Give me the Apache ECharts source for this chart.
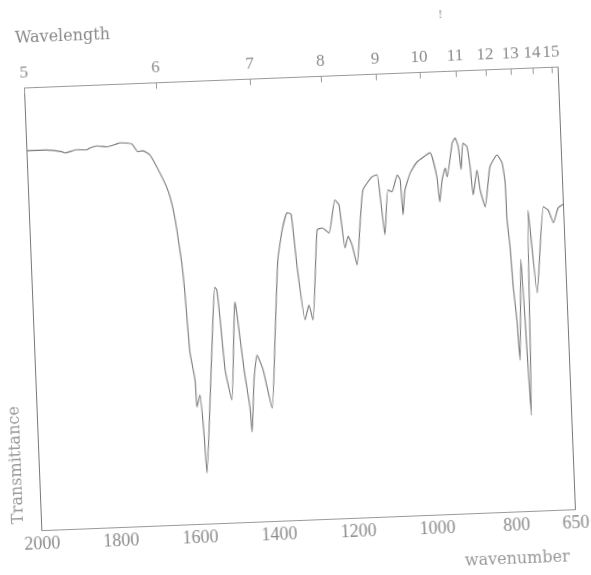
<!DOCTYPE html>
<html>
<head>
<meta charset="utf-8">
<script src="https://cdn.jsdelivr.net/npm/echarts@6/dist/echarts.min.js"></script>
<style>
  html, body { margin: 0; padding: 0; overflow: hidden; background: #fff; }
  /* the scan is tilted a little, so the whole chart is turned to match */
  #main { position: absolute; left: -20px; top: -20px; width: 631px; height: 615px; transform: rotate(-2.25deg); }
</style>
</head>
<body>
<div id="main"></div>
<script type="text/javascript">
    // spectrum (wavenumber in cm-1, transmittance in %)
    var wavenumber = [2000, 1950, 1912, 1904, 1874, 1849, 1841, 1823, 1798, 1772, 1764, 1734, 1720, 1707, 1690,
        1666, 1648, 1637, 1629, 1620, 1615, 1611, 1608, 1598, 1596, 1587, 1581, 1577, 1562, 1547,
        1539, 1534, 1529, 1521, 1507, 1495, 1490, 1486, 1473, 1462, 1459, 1449, 1439, 1425, 1406,
        1391, 1377, 1363, 1349, 1339, 1329, 1314, 1303, 1294, 1275, 1262, 1245, 1227, 1217, 1206,
        1197, 1188, 1177, 1166, 1155, 1131, 1118, 1112, 1104, 1092, 1082, 1067, 1060, 1056, 1049,
        1034, 1016, 982, 967, 962, 954, 945, 941, 925, 917, 910, 905, 898, 888, 882,
        877, 865, 859, 848, 832, 813, 801, 795, 794, 789, 785, 779, 775, 763, 752,
        740, 725, 701, 689, 677, 664, 650];
    var transmittance = [85.8, 85.8, 85.3, 85.0, 85.6, 85.5, 85.9, 86.3, 86.0, 86.6, 86.8, 86.4, 84.6, 84.8, 83.8,
        79.6, 75.7, 71.6, 66.6, 59.1, 52.3, 43.9, 38.7, 32.6, 26.5, 29.2, 21.2, 11.5, 28.0, 46.0,
        53.4, 52.7, 46.6, 34.6, 27.8, 43.5, 49.9, 47.4, 34.4, 26.0, 20.4, 32.1, 37.7, 34.3, 25.6,
        42.5, 59.0, 65.7, 69.5, 69.2, 57.2, 45.2, 48.5, 45.1, 65.4, 65.8, 64.6, 72.0, 70.8, 61.1,
        63.7, 61.7, 57.1, 66.1, 74.0, 76.9, 77.3, 72.3, 63.7, 73.8, 73.3, 77.1, 75.9, 68.0, 73.6,
        77.4, 79.8, 81.8, 76.3, 70.6, 75.6, 78.2, 76.2, 83.8, 84.9, 82.9, 77.7, 83.7, 82.8, 78.2,
        71.9, 77.5, 73.0, 69.1, 78.1, 80.7, 78.9, 74.3, 66.0, 59.8, 50.8, 43.3, 34.2, 57.0, 21.7,
        68.0, 49.2, 68.6, 67.8, 64.9, 68.2, 69.0];

    // tick labels
    var wavenumberTicks = [2000, 1800, 1600, 1400, 1200, 1000, 800, 650];
    var wavelengthTicks = [5, 6, 7, 8, 9, 10, 11, 12, 13, 14, 15];

    var ink = '#777';
    var textInk = '#8a8a8a';

    var myChart = echarts.init(document.getElementById('main'));

    var points = wavenumber.map(function (w, i) { return [w, transmittance[i]]; });
    var wavelengthPos = wavelengthTicks.map(function (l) { return 10000 / l; });

    var option = {
        animation: false,
        backgroundColor: '#fff',
        grid: {
            left: 52.5, top: 97.5, right: 44.5, bottom: 74.5,
            show: true, borderColor: ink, borderWidth: 1, backgroundColor: 'transparent'
        },
        xAxis: [{
            type: 'value', position: 'bottom', min: 650, max: 2000, inverse: true,
            splitLine: { show: false },
            axisLine: { show: true, lineStyle: { color: '#999' } },
            axisTick: { show: false },
            axisLabel: {
                customValues: wavenumberTicks,
                margin: 5,
                formatter: function (v) { return String(v); },
                color: textInk, fontFamily: 'Liberation Serif', fontSize: 18
            }
        }, {
            type: 'value', position: 'top', min: 650, max: 2000, inverse: true,
            splitLine: { show: false },
            axisLine: { show: true, lineStyle: { color: '#999' } },
            axisTick: { show: true, inside: true, length: 6, customValues: wavelengthPos, lineStyle: { color: '#999' } },
            axisLabel: {
                customValues: wavelengthPos,
                margin: 6,
                formatter: function (v) { return String(Math.round(10000 / v)); },
                color: textInk, fontFamily: 'Liberation Serif', fontSize: 17
            }
        }],
        yAxis: {
            type: 'value', min: 0, max: 100,
            splitLine: { show: false },
            axisLine: { show: false },
            axisTick: { show: false },
            axisLabel: { show: false }
        },
        graphic: [
            { type: 'text', x: 45, y: 48, style: { text: 'Wavelength', fill: textInk, fontFamily: 'DejaVu Serif', fontSize: 16, align: 'left', verticalAlign: 'middle' } },
            { type: 'text', x: 474, y: 588, style: { text: 'wavenumber', fill: '#999', fontFamily: 'DejaVu Serif', fontSize: 16, align: 'left', verticalAlign: 'middle' } },
            { type: 'text', x: 30, y: 474, rotation: Math.PI / 2, style: { text: 'Transmittance', fill: '#999', fontFamily: 'DejaVu Serif', fontSize: 16, align: 'center', verticalAlign: 'middle' } },
            { type: 'text', x: 471, y: 41, style: { text: '!', fill: textInk, fontFamily: 'Liberation Serif', fontSize: 12, align: 'center', verticalAlign: 'middle' } }
        ],
        series: [{
            name: 'Transmittance',
            type: 'line',
            xAxisIndex: 0,
            data: points,
            showSymbol: false,
            smooth: 0.15,
            lineStyle: { color: ink, width: 1.1 }
        }]
    };

    myChart.setOption(option);
</script>
</body>
</html>
